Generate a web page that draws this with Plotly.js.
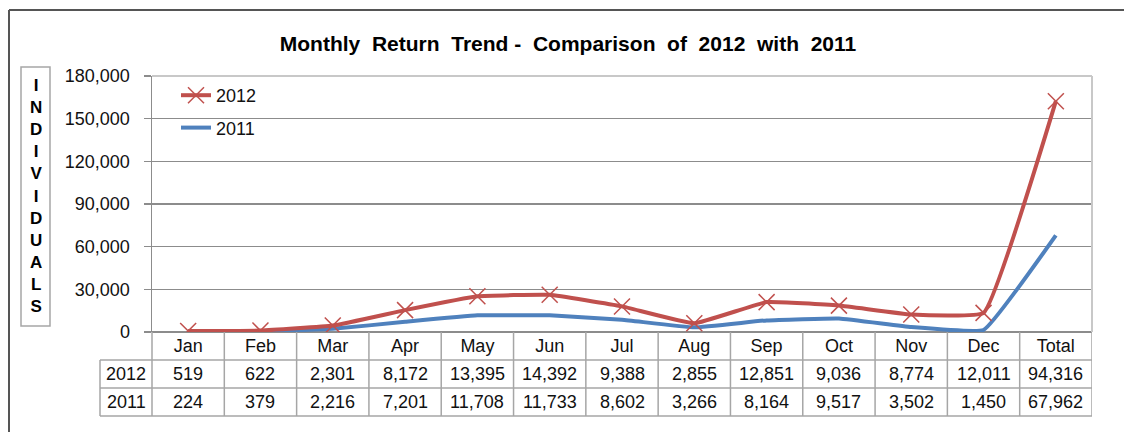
<!DOCTYPE html>
<html>
<head>
<meta charset="utf-8">
<script src="https://cdn.plot.ly/plotly-3.0.1.min.js"></script>
<style>html,body{margin:0;padding:0;background:#fff;}#chart{width:1124px;height:432px;}</style>
</head>
<body>
<div id="chart"></div>
<script>
const months = ['Jan','Feb','Mar','Apr','May','Jun','Jul','Aug','Sep','Oct','Nov','Dec','Total'];
const values2012 = [519,622,2301,8172,13395,14392,9388,2855,12851,9036,8774,12011,94316];
const values2011 = [224,379,2216,7201,11708,11733,8602,3266,8164,9517,3502,1450,67962];
const seriesNames = ['2012','2011'];
const yTickVals = [0,30000,60000,90000,120000,150000,180000];
const yTitle = 'INDIVIDUALS';

const W = 1124, H = 432;
const L = 152, R = 1092, T = 76, B = 332;
const px = x => (x - L) / (R - L);
const py = y => (B - y) / (B - T);
const font = '"Liberation Sans", Arial, sans-serif';
const red = '#C0504D', blue = '#4F81BD';
const gridCol = '#a6a6a6';

const traces = [
  {x: months, y: values2011, name: seriesNames[1], type: 'scatter', mode: 'lines',
   stackgroup: 'one', fill: 'none', legendgroup: 'b', legendrank: 2,
   line: {color: blue, width: 4, shape: 'spline', smoothing: 0.3}},
  {x: months, y: values2012, name: seriesNames[0], type: 'scatter', mode: 'lines+markers',
   stackgroup: 'one', fill: 'none', legendgroup: 'a', legendrank: 1,
   line: {color: red, width: 4, shape: 'spline', smoothing: 0.3},
   marker: {symbol: 'x-thin-open', size: 16, color: red, line: {color: '#d06a67', width: 1.5}}}
];

const shapes = [];
const annotations = [];
function hline(y, x0, x1, color, w) {
  shapes.push({type: 'line', xref: 'paper', yref: 'paper', x0: px(x0), x1: px(x1), y0: py(y), y1: py(y), line: {color: color, width: w}, layer: 'above'});
}
function vlinePaper(x, y0, y1, color, w) {
  shapes.push({type: 'line', xref: 'paper', yref: 'paper', x0: px(x), x1: px(x), y0: py(y0), y1: py(y1), line: {color: color, width: w}, layer: 'above'});
}
// outer chart border
hline(10, 9, 1130, '#555', 2);
vlinePaper(9, 10, 440, '#555', 2);
// plot area light border
hline(T, L, R, '#c8c8c8', 2);
vlinePaper(R, T, B, '#c8c8c8', 2);
// table grid
hline(360, 100, R, gridCol, 1.5);
hline(388, 100, R, gridCol, 1.5);
hline(416, 100, R, gridCol, 1.5);
vlinePaper(100, 360, 416, gridCol, 1.5);
vlinePaper(L, 332, 416, gridCol, 1.5);
for (let k = 1; k <= months.length; k++) {
  shapes.push({type: 'line', xref: 'x', yref: 'paper', x0: k - 0.5, x1: k - 0.5, y0: py(332), y1: py(416), line: {color: gridCol, width: 1.5}, layer: 'above'});
}
// table values
const rows = [[seriesNames[0], values2012, 374], [seriesNames[1], values2011, 402]];
rows.forEach(([name, vals, yc]) => {
  annotations.push({xref: 'paper', yref: 'paper', x: px(126), y: py(yc), text: name, showarrow: false, xanchor: 'center', yanchor: 'middle', font: {family: font, size: 18, color: '#111'}});
  vals.forEach((v, i) => {
    annotations.push({xref: 'x', yref: 'paper', x: months[i], y: py(yc), text: v.toLocaleString('en-US'), showarrow: false, xanchor: 'center', yanchor: 'middle', font: {family: font, size: 18, color: '#111'}});
  });
});
// y-axis title box
shapes.push({type: 'rect', xref: 'paper', yref: 'paper', x0: px(21), x1: px(50), y0: py(326), y1: py(67), line: {color: gridCol, width: 1.5}, layer: 'above'});
annotations.push({xref: 'paper', yref: 'paper', x: px(35.5), y: py(196), text: yTitle.split('').join('<br>'), showarrow: false, xanchor: 'center', yanchor: 'middle', font: {family: font, size: 17, color: '#000', weight: 'bold'}});

const layout = {
  width: W, height: H,
  margin: {l: L, r: W - R, t: T, b: H - B, pad: 0},
  paper_bgcolor: '#fff', plot_bgcolor: '#fff',
  showlegend: true,
  title: {text: '<b>Monthly  Return  Trend -  Comparison  of  2012  with  2011</b>', xref: 'paper', x: px(568), xanchor: 'center', yref: 'container', y: (H - 44) / H, yanchor: 'middle',
          font: {family: font, size: 21, color: '#000'}},
  xaxis: {type: 'category', range: [-0.5, months.length - 0.5], showgrid: false, zeroline: false, showline: false, ticks: '',
          tickfont: {family: font, size: 18, color: '#111'}, ticklabelstandoff: 1, fixedrange: true},
  yaxis: {range: [0, 180000], tickvals: yTickVals, tickformat: ',d', showgrid: true, gridcolor: '#8c8c8c', gridwidth: 1.2,
          zeroline: true, zerolinecolor: '#8c8c8c', zerolinewidth: 1.5,
          showline: true, linecolor: '#8c8c8c', linewidth: 1.5, ticks: 'outside', ticklen: 7, tickcolor: '#8c8c8c', tickwidth: 1.5,
          ticklabelstandoff: 10, tickfont: {family: font, size: 18, color: '#111'}, fixedrange: true},
  legend: {x: px(176), y: py(77), xanchor: 'left', yanchor: 'top', bgcolor: 'rgba(0,0,0,0)', traceorder: 'grouped', tracegroupgap: 6,
           font: {family: font, size: 18, color: '#111'}},
  shapes: shapes,
  annotations: annotations
};

Plotly.newPlot('chart', traces, layout, {displayModeBar: false, staticPlot: true});
</script>
</body>
</html>
